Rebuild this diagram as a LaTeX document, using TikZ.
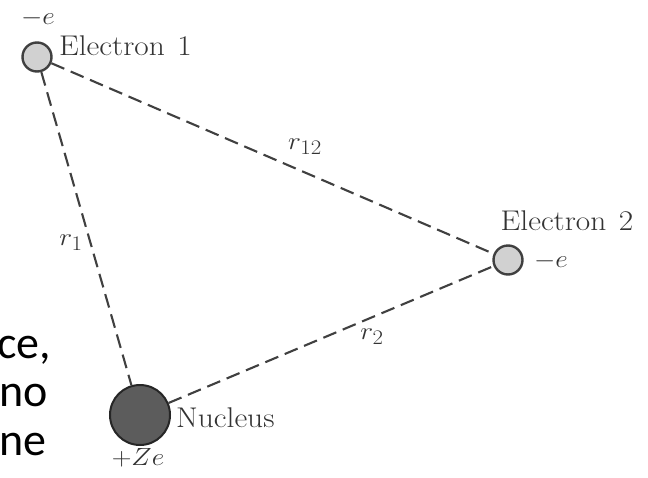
\documentclass[tikz,border=0pt]{standalone}
\usepackage{fontspec}
\usepackage{graphicx}
\newfontfamily\slidefont{Carlito}
\newcommand\widetext[1]{\scalebox{1.1}[1]{#1}}
\begin{document}
\begin{tikzpicture}[x=1pt,y=-1pt,
  lab/.style={text=black!80, font=\fontsize{28.5}{32}\selectfont, inner sep=0pt},
  elec/.style={circle, draw=black!75, fill=black!18, line width=2.4pt, minimum size=29pt, inner sep=0pt},
  nuc/.style={circle, draw=black!85, fill=black!64, line width=2pt, minimum size=60pt, inner sep=0pt},
  link/.style={dash pattern=on 14pt off 7pt, line width=2.1pt, draw=black!75},
  slide/.style={font=\slidefont\fontsize{46}{50}\selectfont, anchor=base west, inner sep=0pt}]
\useasboundingbox (0,0) rectangle (648,477);
\fill[white] (0,0) rectangle (648,477);

% particles
\node[elec] (e1) at (37,57) {};
\node[elec] (e2) at (508,260) {};
\node[nuc] (nu) at (140,415) {};

% connectors
\draw[link] (e1) -- (e2);
\draw[link] (e1) -- (nu);
\draw[link] (nu) -- (e2);

% labels
\node[lab] (qe1) at (38,18) {\widetext{$-e$}};
\node[lab, anchor=west] (n1) at (59,46) {\widetext{Electron\hspace{0.4em}1}};
\node[lab] (r12) at (305,147) {\widetext{$r_{12}$}};
\node[lab] (n2) at (567,221) {\widetext{Electron\hspace{0.4em}2}};
\node[lab] (qe2) at (551,261) {\widetext{$-e$}};
\node[lab] (r1) at (71,243) {\widetext{$r_1$}};
\node[lab] (r2) at (372,337) {\widetext{$r_2$}};
\node[lab, anchor=west] (nn) at (176,418) {\widetext{Nucleus}};
\node[lab] (qz) at (138,458) {\widetext{$+Ze$}};

% slide text cut at the left edge
\node[slide] (s1) at (-3,358) {ce,};
\node[slide] (s2) at (-1,406) {no};
\node[slide] (s3) at (-1,455) {ne};
\end{tikzpicture}
\end{document}
